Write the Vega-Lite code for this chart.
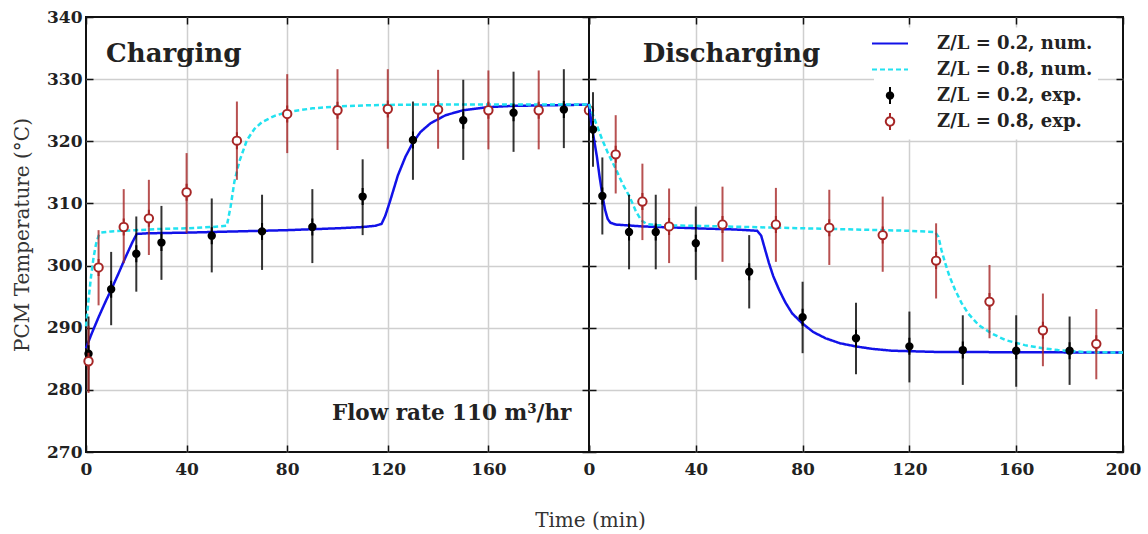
{
  "$schema": "https://vega.github.io/schema/vega-lite/v6.json",
  "padding": {"left": 11, "top": 7, "right": 5, "bottom": 2},
  "background": "white",
  "spacing": 0,
  "bounds": "flush",
  "config": {
    "view": {"stroke": "#111", "strokeWidth": 2},
    "axis": {
      "labelFont": "DejaVu Serif", "labelFontWeight": "bold", "labelFontSize": 17, "labelColor": "#222",
      "titleFont": "DejaVu Serif", "titleFontWeight": "normal", "titleFontSize": 20, "titleColor": "#333",
      "tickColor": "#111", "tickWidth": 1.5, "tickSize": -7, "domain": false,
      "gridColor": "#cfcfcf", "gridWidth": 1.5, "labelFlush": false
    },
    "legend": {
      "title": null, "orient": "none", "legendX": 285, "legendY": 10.5, "fillColor": "white", "padding": 5,
      "symbolSize": 400, "symbolStrokeWidth": 2, "rowPadding": 0, "gridAlign": "all", "labelOffset": 36,
      "labelFont": "DejaVu Serif", "labelFontWeight": "bold", "labelFontSize": 18, "labelColor": "#222"
    }
  },
  "datasets": {
    "leftNum": [
      {"series": "Z/L = 0.2, num.", "t": 0, "T": 286.7}, {"series": "Z/L = 0.2, num.", "t": 2, "T": 288.8},
      {"series": "Z/L = 0.2, num.", "t": 5, "T": 291.7}, {"series": "Z/L = 0.2, num.", "t": 8, "T": 294.4},
      {"series": "Z/L = 0.2, num.", "t": 10, "T": 296.1}, {"series": "Z/L = 0.2, num.", "t": 13, "T": 298.8},
      {"series": "Z/L = 0.2, num.", "t": 16, "T": 301.6}, {"series": "Z/L = 0.2, num.", "t": 18.5, "T": 303.8},
      {"series": "Z/L = 0.2, num.", "t": 20.2, "T": 305.1}, {"series": "Z/L = 0.2, num.", "t": 25, "T": 305.2},
      {"series": "Z/L = 0.2, num.", "t": 40, "T": 305.3}, {"series": "Z/L = 0.2, num.", "t": 60, "T": 305.5},
      {"series": "Z/L = 0.2, num.", "t": 80, "T": 305.7}, {"series": "Z/L = 0.2, num.", "t": 100, "T": 306.0},
      {"series": "Z/L = 0.2, num.", "t": 110, "T": 306.2}, {"series": "Z/L = 0.2, num.", "t": 115, "T": 306.4},
      {"series": "Z/L = 0.2, num.", "t": 117.5, "T": 306.7}, {"series": "Z/L = 0.2, num.", "t": 119, "T": 308.0},
      {"series": "Z/L = 0.2, num.", "t": 121, "T": 310.5}, {"series": "Z/L = 0.2, num.", "t": 124, "T": 314.5},
      {"series": "Z/L = 0.2, num.", "t": 127, "T": 317.5}, {"series": "Z/L = 0.2, num.", "t": 130, "T": 319.8},
      {"series": "Z/L = 0.2, num.", "t": 133, "T": 321.5}, {"series": "Z/L = 0.2, num.", "t": 137, "T": 322.9},
      {"series": "Z/L = 0.2, num.", "t": 143, "T": 324.2}, {"series": "Z/L = 0.2, num.", "t": 150, "T": 325.0},
      {"series": "Z/L = 0.2, num.", "t": 160, "T": 325.5}, {"series": "Z/L = 0.2, num.", "t": 170, "T": 325.7},
      {"series": "Z/L = 0.2, num.", "t": 185, "T": 325.8}, {"series": "Z/L = 0.2, num.", "t": 200, "T": 325.9},
      {"series": "Z/L = 0.8, num.", "t": 0, "T": 290.2}, {"series": "Z/L = 0.8, num.", "t": 1, "T": 294.5},
      {"series": "Z/L = 0.8, num.", "t": 2, "T": 298.2}, {"series": "Z/L = 0.8, num.", "t": 3, "T": 301.3},
      {"series": "Z/L = 0.8, num.", "t": 4, "T": 303.5}, {"series": "Z/L = 0.8, num.", "t": 5, "T": 304.8},
      {"series": "Z/L = 0.8, num.", "t": 6, "T": 305.3}, {"series": "Z/L = 0.8, num.", "t": 10, "T": 305.5},
      {"series": "Z/L = 0.8, num.", "t": 20, "T": 305.7}, {"series": "Z/L = 0.8, num.", "t": 30, "T": 305.9},
      {"series": "Z/L = 0.8, num.", "t": 40, "T": 306.0}, {"series": "Z/L = 0.8, num.", "t": 50, "T": 306.2},
      {"series": "Z/L = 0.8, num.", "t": 56, "T": 306.4}, {"series": "Z/L = 0.8, num.", "t": 57.5, "T": 309.5},
      {"series": "Z/L = 0.8, num.", "t": 59, "T": 313.5}, {"series": "Z/L = 0.8, num.", "t": 61, "T": 316.8},
      {"series": "Z/L = 0.8, num.", "t": 64, "T": 320.2}, {"series": "Z/L = 0.8, num.", "t": 67, "T": 322.0},
      {"series": "Z/L = 0.8, num.", "t": 70, "T": 323.1}, {"series": "Z/L = 0.8, num.", "t": 75, "T": 324.1},
      {"series": "Z/L = 0.8, num.", "t": 80, "T": 324.7}, {"series": "Z/L = 0.8, num.", "t": 90, "T": 325.3},
      {"series": "Z/L = 0.8, num.", "t": 100, "T": 325.6}, {"series": "Z/L = 0.8, num.", "t": 112, "T": 325.8},
      {"series": "Z/L = 0.8, num.", "t": 130, "T": 325.9}, {"series": "Z/L = 0.8, num.", "t": 200, "T": 325.9}
    ],
    "leftExp": [
      {"series": "Z/L = 0.2, exp.", "t": 1, "T": 285.8, "lo": 279.8, "hi": 291.8},
      {"series": "Z/L = 0.2, exp.", "t": 10, "T": 296.2, "lo": 290.4, "hi": 302.2},
      {"series": "Z/L = 0.2, exp.", "t": 20, "T": 301.9, "lo": 295.8, "hi": 307.9},
      {"series": "Z/L = 0.2, exp.", "t": 30, "T": 303.7, "lo": 297.7, "hi": 309.6},
      {"series": "Z/L = 0.2, exp.", "t": 50, "T": 304.8, "lo": 298.9, "hi": 310.8},
      {"series": "Z/L = 0.2, exp.", "t": 70, "T": 305.5, "lo": 299.3, "hi": 311.4},
      {"series": "Z/L = 0.2, exp.", "t": 90, "T": 306.2, "lo": 300.4, "hi": 312.3},
      {"series": "Z/L = 0.2, exp.", "t": 110, "T": 311.1, "lo": 304.9, "hi": 317.1},
      {"series": "Z/L = 0.2, exp.", "t": 130, "T": 320.2, "lo": 313.8, "hi": 326.4},
      {"series": "Z/L = 0.2, exp.", "t": 150, "T": 323.4, "lo": 317.0, "hi": 329.9},
      {"series": "Z/L = 0.2, exp.", "t": 170, "T": 324.6, "lo": 318.3, "hi": 331.2},
      {"series": "Z/L = 0.2, exp.", "t": 190, "T": 325.1, "lo": 318.9, "hi": 331.6},
      {"series": "Z/L = 0.8, exp.", "t": 1, "T": 284.6, "lo": 279.5, "hi": 290.3},
      {"series": "Z/L = 0.8, exp.", "t": 5, "T": 299.7, "lo": 293.6, "hi": 305.7},
      {"series": "Z/L = 0.8, exp.", "t": 15, "T": 306.2, "lo": 300.4, "hi": 312.3},
      {"series": "Z/L = 0.8, exp.", "t": 25, "T": 307.6, "lo": 301.7, "hi": 313.8},
      {"series": "Z/L = 0.8, exp.", "t": 40, "T": 311.8, "lo": 305.2, "hi": 318.1},
      {"series": "Z/L = 0.8, exp.", "t": 60, "T": 320.1, "lo": 313.8, "hi": 326.4},
      {"series": "Z/L = 0.8, exp.", "t": 80, "T": 324.4, "lo": 318.1, "hi": 330.8},
      {"series": "Z/L = 0.8, exp.", "t": 100, "T": 325.0, "lo": 318.6, "hi": 331.6},
      {"series": "Z/L = 0.8, exp.", "t": 120, "T": 325.2, "lo": 318.8, "hi": 331.6},
      {"series": "Z/L = 0.8, exp.", "t": 140, "T": 325.1, "lo": 318.8, "hi": 331.5},
      {"series": "Z/L = 0.8, exp.", "t": 160, "T": 325.0, "lo": 318.7, "hi": 331.4},
      {"series": "Z/L = 0.8, exp.", "t": 180, "T": 325.0, "lo": 318.7, "hi": 331.4},
      {"series": "Z/L = 0.8, exp.", "t": 200, "T": 325.0, "lo": 318.7, "hi": 331.5}
    ],
    "rightNum": [
      {"series": "Z/L = 0.2, num.", "t": 0, "T": 326.0}, {"series": "Z/L = 0.2, num.", "t": 0.5, "T": 324.3},
      {"series": "Z/L = 0.2, num.", "t": 1, "T": 322.6}, {"series": "Z/L = 0.2, num.", "t": 2, "T": 320.0},
      {"series": "Z/L = 0.2, num.", "t": 3, "T": 317.4}, {"series": "Z/L = 0.2, num.", "t": 4, "T": 314.2},
      {"series": "Z/L = 0.2, num.", "t": 5, "T": 311.4}, {"series": "Z/L = 0.2, num.", "t": 6, "T": 309.0},
      {"series": "Z/L = 0.2, num.", "t": 7, "T": 307.5}, {"series": "Z/L = 0.2, num.", "t": 8, "T": 306.9},
      {"series": "Z/L = 0.2, num.", "t": 10, "T": 306.6}, {"series": "Z/L = 0.2, num.", "t": 20, "T": 306.3},
      {"series": "Z/L = 0.2, num.", "t": 40, "T": 306.0}, {"series": "Z/L = 0.2, num.", "t": 55, "T": 305.8},
      {"series": "Z/L = 0.2, num.", "t": 63, "T": 305.6}, {"series": "Z/L = 0.2, num.", "t": 64.5, "T": 304.8},
      {"series": "Z/L = 0.2, num.", "t": 66, "T": 302.5}, {"series": "Z/L = 0.2, num.", "t": 67.4, "T": 300.4},
      {"series": "Z/L = 0.2, num.", "t": 69, "T": 298.3}, {"series": "Z/L = 0.2, num.", "t": 71.2, "T": 296.1},
      {"series": "Z/L = 0.2, num.", "t": 73.5, "T": 294.1}, {"series": "Z/L = 0.2, num.", "t": 76.1, "T": 292.3},
      {"series": "Z/L = 0.2, num.", "t": 79.9, "T": 290.7}, {"series": "Z/L = 0.2, num.", "t": 84, "T": 289.3},
      {"series": "Z/L = 0.2, num.", "t": 88.6, "T": 288.3}, {"series": "Z/L = 0.2, num.", "t": 94, "T": 287.5},
      {"series": "Z/L = 0.2, num.", "t": 99.8, "T": 287.0}, {"series": "Z/L = 0.2, num.", "t": 106, "T": 286.6},
      {"series": "Z/L = 0.2, num.", "t": 113.4, "T": 286.3}, {"series": "Z/L = 0.2, num.", "t": 130, "T": 286.1},
      {"series": "Z/L = 0.2, num.", "t": 200, "T": 286.0},
      {"series": "Z/L = 0.8, num.", "t": 0, "T": 326.0}, {"series": "Z/L = 0.8, num.", "t": 1, "T": 324.8},
      {"series": "Z/L = 0.8, num.", "t": 3, "T": 322.5}, {"series": "Z/L = 0.8, num.", "t": 5, "T": 320.2},
      {"series": "Z/L = 0.8, num.", "t": 7, "T": 318.2}, {"series": "Z/L = 0.8, num.", "t": 10.2, "T": 315.4},
      {"series": "Z/L = 0.8, num.", "t": 12.5, "T": 313.2}, {"series": "Z/L = 0.8, num.", "t": 15.2, "T": 311.1},
      {"series": "Z/L = 0.8, num.", "t": 17.5, "T": 308.8}, {"series": "Z/L = 0.8, num.", "t": 19.5, "T": 307.3},
      {"series": "Z/L = 0.8, num.", "t": 21.5, "T": 306.7}, {"series": "Z/L = 0.8, num.", "t": 25, "T": 306.5},
      {"series": "Z/L = 0.8, num.", "t": 40, "T": 306.4}, {"series": "Z/L = 0.8, num.", "t": 60, "T": 306.2},
      {"series": "Z/L = 0.8, num.", "t": 80, "T": 306.0}, {"series": "Z/L = 0.8, num.", "t": 100, "T": 305.8},
      {"series": "Z/L = 0.8, num.", "t": 120, "T": 305.6}, {"series": "Z/L = 0.8, num.", "t": 129.6, "T": 305.4},
      {"series": "Z/L = 0.8, num.", "t": 130.9, "T": 304.6}, {"series": "Z/L = 0.8, num.", "t": 132, "T": 302.5},
      {"series": "Z/L = 0.8, num.", "t": 133.4, "T": 300.4}, {"series": "Z/L = 0.8, num.", "t": 135, "T": 298.3},
      {"series": "Z/L = 0.8, num.", "t": 137.1, "T": 296.1}, {"series": "Z/L = 0.8, num.", "t": 139.5, "T": 294.0},
      {"series": "Z/L = 0.8, num.", "t": 142, "T": 292.3}, {"series": "Z/L = 0.8, num.", "t": 146, "T": 290.4},
      {"series": "Z/L = 0.8, num.", "t": 150.7, "T": 289.1}, {"series": "Z/L = 0.8, num.", "t": 156, "T": 288.0},
      {"series": "Z/L = 0.8, num.", "t": 163.2, "T": 287.2}, {"series": "Z/L = 0.8, num.", "t": 170, "T": 286.7},
      {"series": "Z/L = 0.8, num.", "t": 175.6, "T": 286.4}, {"series": "Z/L = 0.8, num.", "t": 185, "T": 286.1},
      {"series": "Z/L = 0.8, num.", "t": 200, "T": 286.0}
    ],
    "rightExp": [
      {"series": "Z/L = 0.2, exp.", "t": 1.5, "T": 321.9, "lo": 315.9, "hi": 327.9},
      {"series": "Z/L = 0.2, exp.", "t": 5, "T": 311.2, "lo": 305.0, "hi": 317.4},
      {"series": "Z/L = 0.2, exp.", "t": 15, "T": 305.4, "lo": 299.4, "hi": 311.4},
      {"series": "Z/L = 0.2, exp.", "t": 25, "T": 305.4, "lo": 299.4, "hi": 311.4},
      {"series": "Z/L = 0.2, exp.", "t": 40, "T": 303.6, "lo": 297.7, "hi": 309.5},
      {"series": "Z/L = 0.2, exp.", "t": 60, "T": 299.0, "lo": 293.1, "hi": 304.9},
      {"series": "Z/L = 0.2, exp.", "t": 80, "T": 291.7, "lo": 285.9, "hi": 297.4},
      {"series": "Z/L = 0.2, exp.", "t": 100, "T": 288.3, "lo": 282.5, "hi": 294.0},
      {"series": "Z/L = 0.2, exp.", "t": 120, "T": 287.0, "lo": 281.2, "hi": 292.6},
      {"series": "Z/L = 0.2, exp.", "t": 140, "T": 286.4, "lo": 280.8, "hi": 292.0},
      {"series": "Z/L = 0.2, exp.", "t": 160, "T": 286.3, "lo": 280.5, "hi": 292.0},
      {"series": "Z/L = 0.2, exp.", "t": 180, "T": 286.3, "lo": 280.8, "hi": 291.8},
      {"series": "Z/L = 0.8, exp.", "t": 10, "T": 317.9, "lo": 311.6, "hi": 324.2},
      {"series": "Z/L = 0.8, exp.", "t": 20, "T": 310.3, "lo": 304.1, "hi": 316.4},
      {"series": "Z/L = 0.8, exp.", "t": 30, "T": 306.3, "lo": 300.4, "hi": 312.4},
      {"series": "Z/L = 0.8, exp.", "t": 50, "T": 306.6, "lo": 300.6, "hi": 312.7},
      {"series": "Z/L = 0.8, exp.", "t": 70, "T": 306.6, "lo": 300.6, "hi": 312.5},
      {"series": "Z/L = 0.8, exp.", "t": 90, "T": 306.1, "lo": 300.1, "hi": 312.2},
      {"series": "Z/L = 0.8, exp.", "t": 110, "T": 304.9, "lo": 299.0, "hi": 311.1},
      {"series": "Z/L = 0.8, exp.", "t": 130, "T": 300.8, "lo": 294.7, "hi": 306.8},
      {"series": "Z/L = 0.8, exp.", "t": 150, "T": 294.2, "lo": 288.3, "hi": 300.1},
      {"series": "Z/L = 0.8, exp.", "t": 170, "T": 289.6, "lo": 283.8, "hi": 295.5},
      {"series": "Z/L = 0.8, exp.", "t": 190, "T": 287.4, "lo": 281.7, "hi": 293.0}
    ],
    "note": [{}]
  },
  "resolve": {
    "scale": {"stroke": "independent", "fill": "independent", "shape": "independent", "strokeDash": "independent"},
    "legend": {"stroke": "independent", "fill": "independent", "shape": "independent", "strokeDash": "independent"}
  },
  "hconcat": [
    {
      "width": 503,
      "height": 435,
      "resolve": {"axis": {"x": "independent", "y": "independent"}},
      "layer": [
        {
          "data": {"name": "leftNum"},
          "mark": {"type": "line", "strokeWidth": 2.5},
          "encoding": {
            "x": {"field": "t", "type": "quantitative", "scale": {"domain": [0, 200], "nice": false, "zero": false},
              "axis": {"orient": "bottom", "values": [0, 40, 80, 120, 160, 200], "labelExpr": "datum.value == 200 ? '' : datum.label",
                "title": "Time (min)", "titleX": 504, "titlePadding": 33, "labelPadding": 16, "grid": true,
                "gridOpacity": {"condition": {"test": "datum.value == 0 || datum.value == 200", "value": 0}, "value": 1}}},
            "y": {"field": "T", "type": "quantitative", "scale": {"domain": [270, 340], "nice": false, "zero": false},
              "axis": {"orient": "left", "values": [270, 280, 290, 300, 310, 320, 330, 340], "title": "PCM Temperature (°C)",
                "titlePadding": 14, "labelPadding": 11, "grid": true,
                "gridOpacity": {"condition": {"test": "datum.value == 270 || datum.value == 340", "value": 0}, "value": 1}}},
            "stroke": {"field": "series", "type": "nominal", "legend": null,
              "scale": {"domain": ["Z/L = 0.2, num.", "Z/L = 0.8, num.", "Z/L = 0.2, exp.", "Z/L = 0.8, exp."], "range": ["#1212e8", "#22e2f0", "#000000", "#a62626"]}},
            "strokeDash": {"field": "series", "type": "nominal", "legend": null,
              "scale": {"domain": ["Z/L = 0.2, num.", "Z/L = 0.8, num.", "Z/L = 0.2, exp.", "Z/L = 0.8, exp."], "range": [[1, 0], [5, 3], [1, 0], [1, 0]]}}
          }
        },
        {
          "data": {"name": "leftExp"},
          "mark": {"type": "rule", "strokeWidth": 2, "opacity": 0.8},
          "encoding": {
            "x": {"field": "t", "type": "quantitative", "axis": null},
            "y": {"field": "lo", "type": "quantitative", "axis": null},
            "y2": {"field": "hi"},
            "stroke": {"field": "series", "type": "nominal", "legend": null}
          }
        },
        {
          "data": {"name": "leftExp"},
          "mark": {"type": "point", "filled": false, "size": 400, "strokeWidth": 2, "opacity": 1},
          "encoding": {
            "x": {"field": "t", "type": "quantitative", "axis": null},
            "y": {"field": "T", "type": "quantitative", "axis": null},
            "stroke": {"field": "series", "type": "nominal", "legend": null},
            "fill": {"field": "series", "type": "nominal", "legend": null,
              "scale": {"domain": ["Z/L = 0.2, num.", "Z/L = 0.8, num.", "Z/L = 0.2, exp.", "Z/L = 0.8, exp."], "range": ["transparent", "transparent", "#000000", "#ffffff"]}},
            "shape": {"field": "series", "type": "nominal", "legend": null,
              "scale": {"domain": ["Z/L = 0.2, num.", "Z/L = 0.8, num.", "Z/L = 0.2, exp.", "Z/L = 0.8, exp."],
                "range": ["M-1.8,0H1.8", "M-1.8,0H1.8", "M0,-0.85V0.85M0.32,0A0.32,0.32,0,1,1,-0.32,0A0.32,0.32,0,1,1,0.32,0Z", "M0,-0.85V-0.42M0,0.42V0.85M0.42,0A0.42,0.42,0,1,1,-0.42,0A0.42,0.42,0,1,1,0.42,0Z"]}}
          }
        },
        {
          "data": {"name": "note"},
          "mark": {"type": "text", "align": "left", "baseline": "alphabetic", "font": "DejaVu Serif", "fontWeight": "bold", "fontSize": 26, "color": "#222"},
          "encoding": {
            "x": {"datum": 8, "type": "quantitative", "axis": {"orient": "top", "values": [0, 40, 80, 120, 160, 200], "labels": false, "title": null, "grid": false}},
            "y": {"datum": 332.8, "type": "quantitative", "axis": {"orient": "right", "values": [270, 280, 290, 300, 310, 320, 330, 340], "labels": false, "title": null, "grid": false}},
            "text": {"value": "Charging"}
          }
        },
        {
          "data": {"name": "note"},
          "mark": {"type": "text", "align": "right", "baseline": "alphabetic", "font": "DejaVu Serif", "fontWeight": "bold", "fontSize": 21.5, "color": "#222"},
          "encoding": {
            "x": {"datum": 193, "type": "quantitative", "axis": null},
            "y": {"datum": 275.1, "type": "quantitative", "axis": null},
            "text": {"value": "Flow rate 110 m³/hr"}
          }
        }
      ]
    },
    {
      "width": 534,
      "height": 435,
      "resolve": {"axis": {"x": "independent", "y": "independent"}},
      "layer": [
        {
          "data": {"name": "rightNum"},
          "mark": {"type": "line", "strokeWidth": 2.5},
          "encoding": {
            "x": {"field": "t", "type": "quantitative", "scale": {"domain": [0, 200], "nice": false, "zero": false},
              "axis": {"orient": "bottom", "values": [0, 40, 80, 120, 160, 200], "title": null, "labelPadding": 16, "grid": true,
                "gridOpacity": {"condition": {"test": "datum.value == 0 || datum.value == 200", "value": 0}, "value": 1}}},
            "y": {"field": "T", "type": "quantitative", "scale": {"domain": [270, 340], "nice": false, "zero": false},
              "axis": {"orient": "left", "values": [270, 280, 290, 300, 310, 320, 330, 340], "labels": false, "title": null, "grid": true,
                "gridOpacity": {"condition": {"test": "datum.value == 270 || datum.value == 340", "value": 0}, "value": 1}}},
            "stroke": {"field": "series", "type": "nominal",
              "scale": {"domain": ["Z/L = 0.2, num.", "Z/L = 0.8, num.", "Z/L = 0.2, exp.", "Z/L = 0.8, exp."], "range": ["#1212e8", "#22e2f0", "#000000", "#a62626"]},
              "legend": {"title": null, "orient": "none", "legendX": 285, "legendY": 10.5}},
            "strokeDash": {"field": "series", "type": "nominal",
              "scale": {"domain": ["Z/L = 0.2, num.", "Z/L = 0.8, num.", "Z/L = 0.2, exp.", "Z/L = 0.8, exp."], "range": [[1, 0], [5, 3], [1, 0], [1, 0]]},
              "legend": {"title": null, "orient": "none", "legendX": 285, "legendY": 10.5}}
          }
        },
        {
          "data": {"name": "rightExp"},
          "mark": {"type": "rule", "strokeWidth": 2, "opacity": 0.8},
          "encoding": {
            "x": {"field": "t", "type": "quantitative", "axis": null},
            "y": {"field": "lo", "type": "quantitative", "axis": null},
            "y2": {"field": "hi"},
            "stroke": {"field": "series", "type": "nominal", "legend": null}
          }
        },
        {
          "data": {"name": "rightExp"},
          "mark": {"type": "point", "filled": false, "size": 400, "strokeWidth": 2, "opacity": 1},
          "encoding": {
            "x": {"field": "t", "type": "quantitative", "axis": null},
            "y": {"field": "T", "type": "quantitative", "axis": null},
            "stroke": {"field": "series", "type": "nominal", "legend": null},
            "fill": {"field": "series", "type": "nominal",
              "scale": {"domain": ["Z/L = 0.2, num.", "Z/L = 0.8, num.", "Z/L = 0.2, exp.", "Z/L = 0.8, exp."], "range": ["transparent", "transparent", "#000000", "#ffffff"]},
              "legend": {"title": null, "orient": "none", "legendX": 285, "legendY": 10.5}},
            "shape": {"field": "series", "type": "nominal",
              "scale": {"domain": ["Z/L = 0.2, num.", "Z/L = 0.8, num.", "Z/L = 0.2, exp.", "Z/L = 0.8, exp."],
                "range": ["M-1.8,0H1.8", "M-1.8,0H1.8", "M0,-0.85V0.85M0.32,0A0.32,0.32,0,1,1,-0.32,0A0.32,0.32,0,1,1,0.32,0Z", "M0,-0.85V-0.42M0,0.42V0.85M0.42,0A0.42,0.42,0,1,1,-0.42,0A0.42,0.42,0,1,1,0.42,0Z"]},
              "legend": {"title": null, "orient": "none", "legendX": 285, "legendY": 10.5}}
          }
        },
        {
          "data": {"name": "note"},
          "mark": {"type": "text", "align": "left", "baseline": "alphabetic", "font": "DejaVu Serif", "fontWeight": "bold", "fontSize": 26, "color": "#222"},
          "encoding": {
            "x": {"datum": 20.1, "type": "quantitative", "axis": {"orient": "top", "values": [0, 40, 80, 120, 160, 200], "labels": false, "title": null, "grid": false}},
            "y": {"datum": 332.8, "type": "quantitative", "axis": {"orient": "right", "values": [270, 280, 290, 300, 310, 320, 330, 340], "labels": false, "title": null, "grid": false}},
            "text": {"value": "Discharging"}
          }
        }
      ]
    }
  ]
}
